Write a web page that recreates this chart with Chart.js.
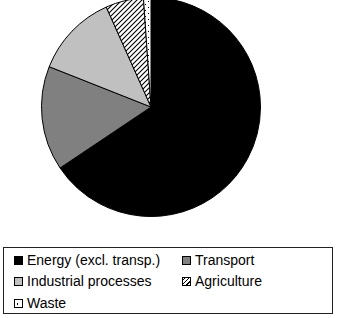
<!DOCTYPE html>
<html>
<head>
<meta charset="utf-8">
<script src="https://cdn.jsdelivr.net/npm/chart.js@4/dist/chart.umd.min.js"></script>
<style>
  html, body { margin: 0; padding: 0; background: #fff; width: 338px; height: 318px; overflow: hidden; }
  #wrap { position: absolute; left: 0; top: -3px; width: 338px; height: 226px; }
  #legend { position: absolute; left: 3px; top: 247px; width: 330px; height: 67px; border: 1px solid #222; box-sizing: border-box;
    font-family: "Liberation Sans", Arial, sans-serif; font-size: 14px; color: #000; }
  .item { position: absolute; white-space: nowrap; line-height: 16px; }
  .sw { position: absolute; width: 9px; height: 9px; box-sizing: border-box; border: 1px solid #000; }
</style>
</head>
<body>
<div id="wrap"><canvas id="c"></canvas></div>
<div id="legend"></div>
<script>
const categories = ["Energy (excl. transp.)", "Transport", "Industrial processes", "Agriculture", "Waste"];
const shares = [65.6, 15.4, 12.3, 5.6, 1.1];

function hatchPattern() {
  const p = document.createElement('canvas');
  p.width = 5; p.height = 5;
  const g = p.getContext('2d');
  g.fillStyle = '#fff'; g.fillRect(0, 0, 5, 5);
  g.strokeStyle = '#000'; g.lineWidth = 1.1;
  g.beginPath();
  g.moveTo(-1, 6); g.lineTo(6, -1);
  g.moveTo(-1, 1); g.lineTo(1, -1);
  g.moveTo(4, 6); g.lineTo(6, 4);
  g.stroke();
  return g.createPattern(p, 'repeat');
}
function dotPattern() {
  const p = document.createElement('canvas');
  p.width = 6; p.height = 6;
  const g = p.getContext('2d');
  g.fillStyle = '#fff'; g.fillRect(0, 0, 6, 6);
  g.fillStyle = '#000';
  g.fillRect(1, 1, 1, 1);
  g.fillRect(4, 4, 1, 1);
  return g.createPattern(p, 'repeat');
}

const fills = ['#000000', '#808080', '#c0c0c0', hatchPattern(), dotPattern()];

new Chart(document.getElementById('c'), {
  type: 'pie',
  data: {
    labels: categories,
    datasets: [{
      data: shares,
      backgroundColor: fills,
      borderColor: '#000',
      borderWidth: 1
    }]
  },
  options: {
    responsive: true,
    maintainAspectRatio: false,
    animation: false,
    layout: { padding: { left: 41, right: 77, top: 0, bottom: 6 } },
    plugins: { legend: { display: false }, tooltip: { enabled: false } }
  }
});

// HTML legend built from the same categories
const legend = document.getElementById('legend');
const pos = [[10, 4], [178, 4], [10, 25], [178, 25], [10, 47]];
const swStyles = [
  'background:#000;',
  'background:#808080;',
  'background:#c0c0c0;',
  'background:#fff repeating-linear-gradient(-45deg, #fff 0 2px, #000 2px 3px);',
  'background:#fff;'
];
categories.forEach((c, i) => {
  const d = document.createElement('div');
  d.className = 'item';
  d.style.left = pos[i][0] + 'px';
  d.style.top = pos[i][1] + 'px';
  const s = document.createElement('span');
  s.className = 'sw';
  s.style.cssText = swStyles[i] + 'left:0;top:4px;';
  if (i === 4) {
    const dot = document.createElement('span');
    dot.style.cssText = 'position:absolute;left:2px;top:3px;width:1px;height:2px;background:#000;';
    s.appendChild(dot);
  }
  const t = document.createElement('span');
  t.textContent = c;
  t.style.cssText = 'position:absolute;left:13px;top:0;';
  d.appendChild(s); d.appendChild(t);
  legend.appendChild(d);
});
</script>
</body>
</html>
